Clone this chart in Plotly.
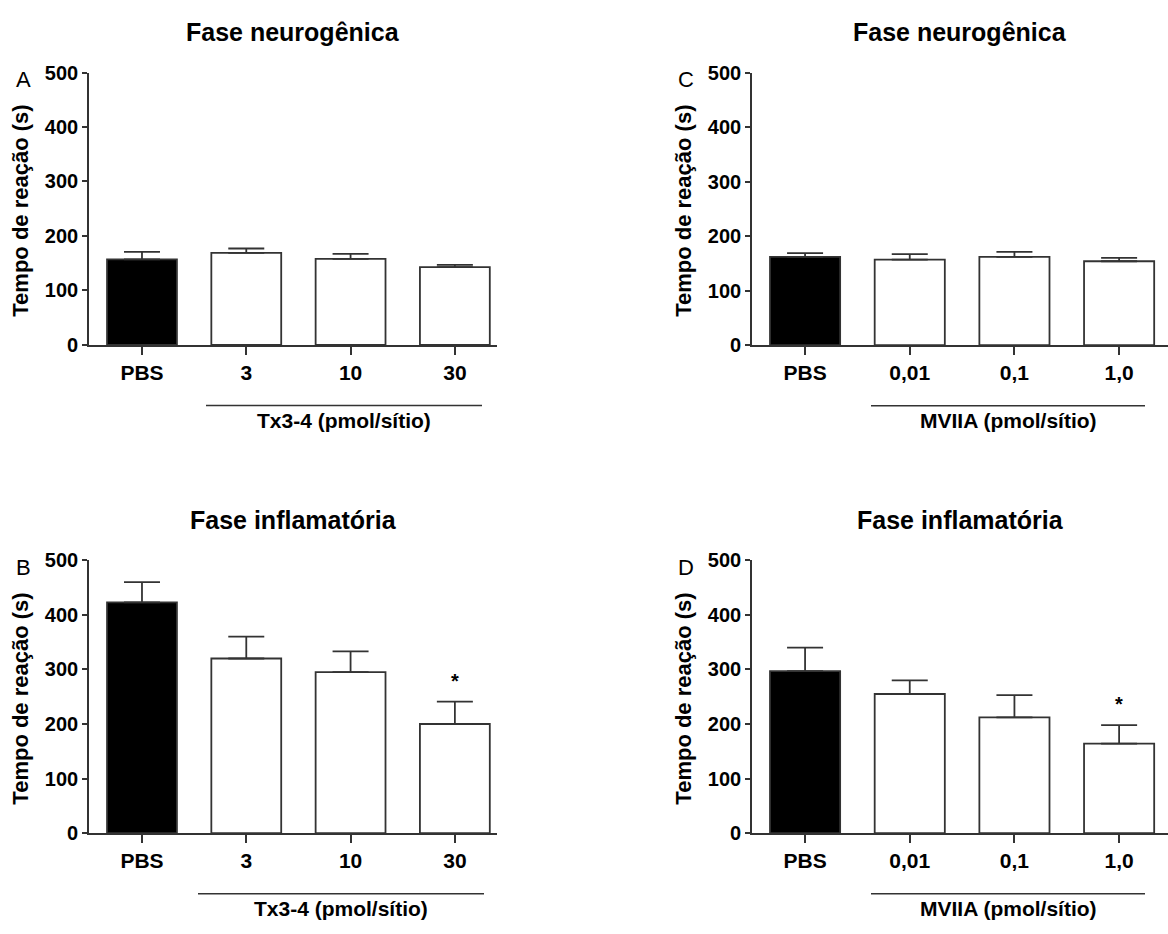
import plotly.graph_objects as go

W, H = 1168, 934

# ---------------- data ----------------
cats_tx = ["PBS", "3", "10", "30"]
cats_mv = ["PBS", "0,01", "0,1", "1,0"]

neuro_tx = [157, 169, 158, 143]
neuro_tx_err = [14, 8, 9, 4]
inflam_tx = [423, 320, 295, 200]
inflam_tx_err = [37, 40, 38, 41]

neuro_mv = [162, 157, 162, 154]
neuro_mv_err = [7, 10, 9, 6]
inflam_mv = [297, 255, 212, 164]
inflam_mv_err = [43, 25, 41, 34]

sig_tx = [False, False, False, True]
sig_mv = [False, False, False, True]

titles = ["Fase neurogênica", "Fase inflamatória", "Fase neurogênica", "Fase inflamatória"]
letters = ["A", "B", "C", "D"]
group_labels = ["Tx3-4 (pmol/sítio)", "Tx3-4 (pmol/sítio)", "MVIIA (pmol/sítio)", "MVIIA (pmol/sítio)"]
y_title = "Tempo de reação (s)"
y_ticks = [0, 100, 200, 300, 400, 500]

bar_colors = ["black", "white", "white", "white"]
FONT = "Arial, Liberation Sans, sans-serif"
AX = "#333333"

# panel geometry in pixels: (x0, x1, ytop, ybottom)
panels = [
    dict(px=(89, 497), py=(63, 342), xr=(-0.508, 3.404)),
    dict(px=(89, 497), py=(562.5, 842), xr=(-0.508, 3.404)),
    dict(px=(752, 1168), py=(63, 342.3), xr=(-0.507, 3.467)),
    dict(px=(752, 1168), py=(562.5, 842), xr=(-0.507, 3.467)),
]
series = [
    (cats_tx, neuro_tx, neuro_tx_err, None),
    (cats_tx, inflam_tx, inflam_tx_err, sig_tx),
    (cats_mv, neuro_mv, neuro_mv_err, None),
    (cats_mv, inflam_mv, inflam_mv_err, sig_mv),
]

def fx(p):
    return p / W

def fy(p):
    return 1 - p / H

fig = go.Figure()
annotations = []
shapes = []
layout = {}

for i, (pan, (cats, vals, errs, sig)) in enumerate(zip(panels, series)):
    n = i + 1
    xa = "x" if n == 1 else f"x{n}"
    ya = "y" if n == 1 else f"y{n}"
    xkey = "xaxis" if n == 1 else f"xaxis{n}"
    ykey = "yaxis" if n == 1 else f"yaxis{n}"
    xs = list(range(len(cats)))
    fig.add_trace(go.Bar(
        x=xs, y=vals, width=0.67,
        marker=dict(color=bar_colors, line=dict(color=AX, width=1.8)),
        error_y=dict(type="data", array=errs, arrayminus=[0] * len(errs), symmetric=False,
                     color=AX, thickness=1.8, width=18),
        xaxis=xa, yaxis=ya, showlegend=False, hoverinfo="skip",
    ))
    layout[xkey] = dict(
        domain=[fx(pan["px"][0]), fx(pan["px"][1])], anchor=ya, range=list(pan["xr"]),
        tickvals=xs, ticktext=cats, showline=True, linecolor=AX, linewidth=1.6,
        ticks="outside", ticklen=8, tickwidth=1.6, tickcolor=AX, showgrid=False, zeroline=False,
        tickfont=dict(family=FONT, size=21, color="black", weight="bold"), fixedrange=True,
    )
    layout[ykey] = dict(
        domain=[fy(pan["py"][1]), fy(pan["py"][0])], anchor=xa, range=[0, 500],
        tickvals=y_ticks, showline=True, linecolor=AX, linewidth=1.6,
        ticks="outside", ticklen=5, tickwidth=1.6, tickcolor=AX, showgrid=False, zeroline=False,
        tickfont=dict(family=FONT, size=20, color="black", weight="bold"), fixedrange=True,
    )
    x0, x1 = pan["px"]
    ytop, ybot = pan["py"]
    cx = (x0 + x1) / 2
    # panel title
    annotations.append(dict(text=f"<b>{titles[i]}</b>", x=fx(cx), y=fy(ytop - 41), xref="paper", yref="paper",
                            xanchor="center", yanchor="middle", showarrow=False,
                            font=dict(family=FONT, size=25, color="black")))
    # letter
    annotations.append(dict(text=letters[i], x=fx(x0 - 66), y=fy(ytop + 7), xref="paper", yref="paper",
                            xanchor="center", yanchor="middle", showarrow=False,
                            font=dict(family=FONT, size=22, color="black")))
    # y title
    annotations.append(dict(text=f"<b>{y_title}</b>", x=fx(x0 - 68), y=fy((ytop + ybot) / 2 + 2), xref="paper", yref="paper",
                            xanchor="center", yanchor="middle", showarrow=False, textangle=-90,
                            font=dict(family=FONT, size=22, color="black")))
    # group line + label
    if n in (1, 3):
        lx0, lx1 = (206, 482) if n == 1 else (871, 1145)
    else:
        lx0, lx1 = (198, 484) if n == 2 else (871, 1145)
    ly = ybot + 62
    shapes.append(dict(type="line", xref="paper", yref="paper", x0=fx(lx0), x1=fx(lx1), y0=fy(ly), y1=fy(ly),
                       line=dict(color=AX, width=1.5)))
    annotations.append(dict(text=f"<b>{group_labels[i]}</b>", x=fx((lx0 + lx1) / 2), y=fy(ly + 15), xref="paper", yref="paper",
                            xanchor="center", yanchor="middle", showarrow=False,
                            font=dict(family=FONT, size=21, color="black")))
    # significance
    if sig is not None:
        for k, s in enumerate(sig):
            if s:
                annotations.append(dict(text="<b>*</b>", x=k, y=vals[k] + errs[k], xref=xa, yref=ya,
                                        xanchor="center", yanchor="bottom", yshift=8, showarrow=False,
                                        font=dict(family=FONT, size=20, color="black")))

fig.update_layout(
    width=W, height=H, margin=dict(l=0, r=0, t=0, b=0),
    paper_bgcolor="white", plot_bgcolor="white",
    annotations=annotations, shapes=shapes, bargap=0.3, **layout,
)
fig.write_html("out.html", config={"displayModeBar": False},
               post_script="document.body.style.margin='0';document.body.style.overflow='hidden';")
